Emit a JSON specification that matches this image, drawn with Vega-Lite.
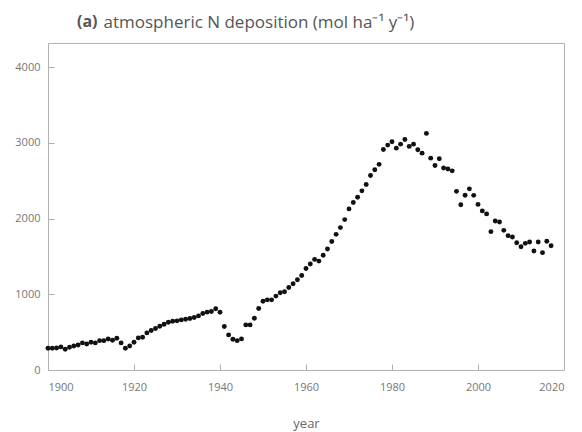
{
  "$schema": "https://vega.github.io/schema/vega-lite/v6.json",
  "width": 516,
  "height": 327,
  "autosize": "none",
  "padding": {"left": 48, "top": 43, "right": 18, "bottom": 62},
  "background": "white",
  "title": {
    "text": "(a)",
    "anchor": "start",
    "frame": "group",
    "dx": 29,
    "offset": -30,
    "baseline": "alphabetic",
    "font": "Open Sans",
    "fontSize": 16,
    "fontWeight": "bold",
    "color": "#555555"
  },
  "config": {
    "font": "Open Sans",
    "view": {"stroke": "#b0b0b0", "strokeWidth": 1},
    "axis": {
      "grid": false,
      "domain": false,
      "tickColor": "#b0b0b0",
      "labelColor": "#777777",
      "titleColor": "#666666",
      "labelFont": "Open Sans",
      "titleFont": "Open Sans",
      "labelFontSize": 11,
      "titleFontWeight": "normal"
    }
  },
  "data": {
    "values": [
      {"year": 1900, "value": 287}, {"year": 1901, "value": 287}, {"year": 1902, "value": 291},
      {"year": 1903, "value": 305}, {"year": 1904, "value": 274}, {"year": 1905, "value": 300},
      {"year": 1906, "value": 318}, {"year": 1907, "value": 331}, {"year": 1908, "value": 358},
      {"year": 1909, "value": 344}, {"year": 1910, "value": 366}, {"year": 1911, "value": 358},
      {"year": 1912, "value": 388}, {"year": 1913, "value": 388}, {"year": 1914, "value": 410},
      {"year": 1915, "value": 393}, {"year": 1916, "value": 419}, {"year": 1917, "value": 358},
      {"year": 1918, "value": 287}, {"year": 1919, "value": 318}, {"year": 1920, "value": 366},
      {"year": 1921, "value": 424}, {"year": 1922, "value": 432}, {"year": 1923, "value": 490},
      {"year": 1924, "value": 521}, {"year": 1925, "value": 548}, {"year": 1926, "value": 578},
      {"year": 1927, "value": 605}, {"year": 1928, "value": 631}, {"year": 1929, "value": 644},
      {"year": 1930, "value": 649}, {"year": 1931, "value": 662}, {"year": 1932, "value": 671},
      {"year": 1933, "value": 680}, {"year": 1934, "value": 693}, {"year": 1935, "value": 715},
      {"year": 1936, "value": 746}, {"year": 1937, "value": 764}, {"year": 1938, "value": 773},
      {"year": 1939, "value": 810}, {"year": 1940, "value": 762}, {"year": 1941, "value": 574},
      {"year": 1942, "value": 464}, {"year": 1943, "value": 406}, {"year": 1944, "value": 388},
      {"year": 1945, "value": 411}, {"year": 1946, "value": 596}, {"year": 1947, "value": 596},
      {"year": 1948, "value": 684}, {"year": 1949, "value": 812}, {"year": 1950, "value": 909},
      {"year": 1951, "value": 927}, {"year": 1952, "value": 927}, {"year": 1953, "value": 976},
      {"year": 1954, "value": 1020}, {"year": 1955, "value": 1033}, {"year": 1956, "value": 1090},
      {"year": 1957, "value": 1139}, {"year": 1958, "value": 1192}, {"year": 1959, "value": 1249},
      {"year": 1960, "value": 1340}, {"year": 1961, "value": 1400}, {"year": 1962, "value": 1461},
      {"year": 1963, "value": 1439}, {"year": 1964, "value": 1516}, {"year": 1965, "value": 1598},
      {"year": 1966, "value": 1698}, {"year": 1967, "value": 1792}, {"year": 1968, "value": 1881},
      {"year": 1969, "value": 1987}, {"year": 1970, "value": 2128}, {"year": 1971, "value": 2212},
      {"year": 1972, "value": 2283}, {"year": 1973, "value": 2367}, {"year": 1974, "value": 2450},
      {"year": 1975, "value": 2570}, {"year": 1976, "value": 2645}, {"year": 1977, "value": 2717},
      {"year": 1978, "value": 2914}, {"year": 1979, "value": 2971}, {"year": 1980, "value": 3015},
      {"year": 1981, "value": 2931}, {"year": 1982, "value": 2984}, {"year": 1983, "value": 3046},
      {"year": 1984, "value": 2954}, {"year": 1985, "value": 2984}, {"year": 1986, "value": 2909},
      {"year": 1987, "value": 2865}, {"year": 1988, "value": 3126}, {"year": 1989, "value": 2799},
      {"year": 1990, "value": 2702}, {"year": 1991, "value": 2790}, {"year": 1992, "value": 2669},
      {"year": 1993, "value": 2655}, {"year": 1994, "value": 2631}, {"year": 1995, "value": 2360},
      {"year": 1996, "value": 2183}, {"year": 1997, "value": 2309}, {"year": 1998, "value": 2393},
      {"year": 1999, "value": 2307}, {"year": 2000, "value": 2188}, {"year": 2001, "value": 2102},
      {"year": 2002, "value": 2062}, {"year": 2003, "value": 1828}, {"year": 2004, "value": 1969},
      {"year": 2005, "value": 1956}, {"year": 2006, "value": 1845}, {"year": 2007, "value": 1775},
      {"year": 2008, "value": 1757}, {"year": 2009, "value": 1682}, {"year": 2010, "value": 1629},
      {"year": 2011, "value": 1673}, {"year": 2012, "value": 1691}, {"year": 2013, "value": 1572},
      {"year": 2014, "value": 1691}, {"year": 2015, "value": 1550}, {"year": 2016, "value": 1700},
      {"year": 2017, "value": 1642}
    ]
  },
  "mark": {"type": "point", "filled": true, "size": 24, "color": "#111111", "opacity": 1},
  "encoding": {
    "x": {
      "field": "year",
      "type": "quantitative",
      "scale": {"domain": [1900, 2020], "nice": false, "zero": false},
      "axis": {
        "values": [1900, 1920, 1940, 1960, 1980, 2000, 2020],
        "format": "d",
        "tickSize": -6,
        "labelPadding": 17,
        "title": "year",
        "titleFontSize": 13,
        "titlePadding": 25
      }
    },
    "y": {
      "field": "value",
      "type": "quantitative",
      "scale": {"domain": [0, 4320], "nice": false},
      "axis": {
        "values": [0, 1000, 2000, 3000, 4000],
        "format": "d",
        "tickSize": -6,
        "labelPadding": 14,
        "title": "atmospheric N deposition (mol ha⁻¹ y⁻¹)",
        "titleAngle": 0,
        "titleAlign": "left",
        "titleBaseline": "alphabetic",
        "titleX": 55,
        "titleY": -16,
        "titleFontSize": 17,
        "titleColor": "#555555"
      }
    }
  }
}
